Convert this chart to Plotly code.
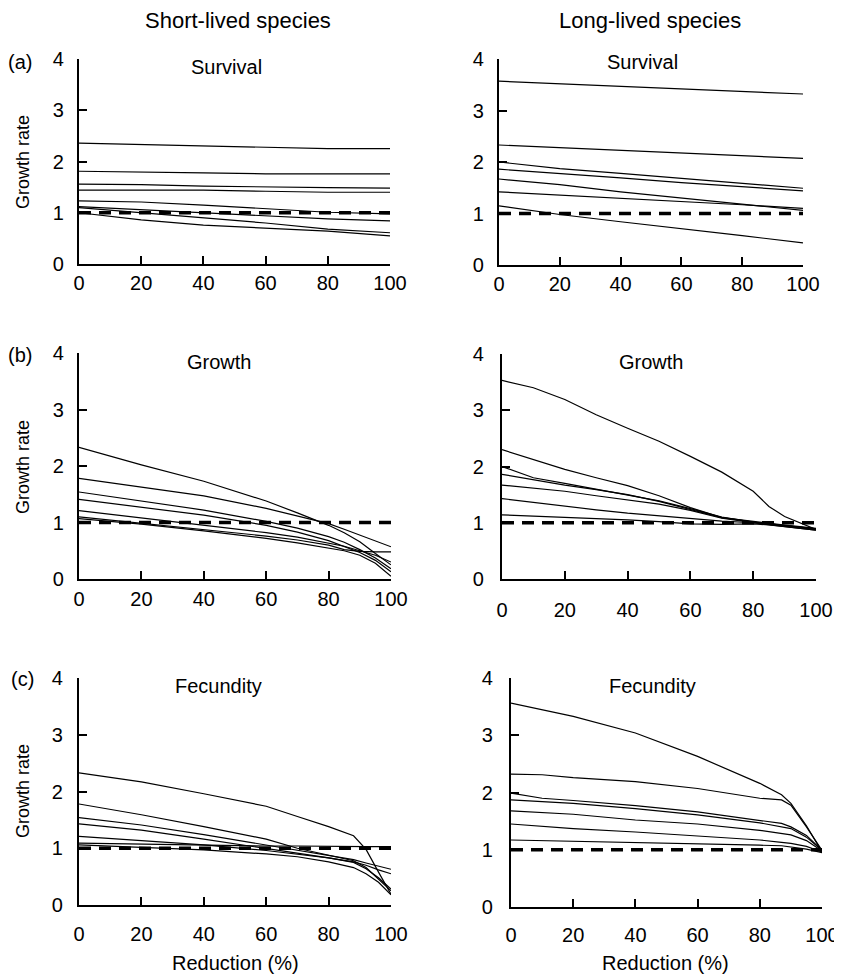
import plotly.graph_objects as go

# the page body has an 8px margin, so the figure starts 8px in from the
# top-left corner; pixel positions below are measured on the 842x975 page
OFF = 8
W, H = 842, 975

# ---------------- data ----------------
# (a) Survival, short-lived
surv_short_x = [0, 20, 40, 60, 80, 100]
surv_short = [
    [2.36, 2.33, 2.31, 2.28, 2.25, 2.25],
    [1.81, 1.80, 1.78, 1.76, 1.76, 1.76],
    [1.56, 1.55, 1.52, 1.50, 1.49, 1.48],
    [1.44, 1.44, 1.44, 1.42, 1.40, 1.40],
    [1.23, 1.21, 1.15, 1.08, 1.01, 0.98],
    [1.12, 1.06, 1.00, 0.94, 0.88, 0.84],
    [1.10, 1.00, 0.90, 0.80, 0.68, 0.61],
    [1.00, 0.86, 0.76, 0.70, 0.64, 0.55],
]
# (a) Survival, long-lived
surv_long_x = [0, 20, 40, 60, 80, 100]
surv_long = [
    [3.57, 3.52, 3.47, 3.42, 3.37, 3.32],
    [2.33, 2.28, 2.22, 2.17, 2.12, 2.07],
    [2.00, 1.87, 1.78, 1.68, 1.58, 1.49],
    [1.86, 1.78, 1.69, 1.60, 1.52, 1.44],
    [1.67, 1.56, 1.42, 1.30, 1.18, 1.06],
    [1.42, 1.36, 1.30, 1.24, 1.17, 1.10],
    [1.15, 0.98, 0.84, 0.71, 0.57, 0.43],
]
# (b) Growth, short-lived
grow_short_x = [0, 20, 40, 60, 70, 80, 85, 90, 95, 100]
grow_short = [
    [2.33, 2.02, 1.73, 1.38, 1.17, 0.95, 0.82, 0.66, 0.45, 0.25],
    [1.78, 1.62, 1.47, 1.25, 1.12, 0.98, 0.88, 0.78, 0.67, 0.57],
    [1.54, 1.38, 1.22, 1.02, 0.90, 0.75, 0.65, 0.52, 0.37, 0.18],
    [1.41, 1.27, 1.13, 0.95, 0.83, 0.68, 0.58, 0.47, 0.33, 0.13],
    [1.21, 1.08, 0.96, 0.82, 0.74, 0.64, 0.58, 0.50, 0.42, 0.30],
    [1.10, 0.99, 0.88, 0.76, 0.69, 0.60, 0.52, 0.49, 0.48, 0.48],
    [1.07, 0.97, 0.85, 0.72, 0.64, 0.55, 0.50, 0.42, 0.28, 0.05],
]
# (b) Growth, long-lived
grow_long_x = [0, 10, 20, 30, 40, 50, 60, 70, 80, 85, 90, 95, 100]
grow_long = [
    [3.53, 3.40, 3.19, 2.92, 2.68, 2.45, 2.18, 1.90, 1.56, 1.29, 1.11, 1.00, 0.88],
    [2.30, 2.12, 1.95, 1.80, 1.66, 1.48, 1.27, 1.09, 1.02, 0.99, 0.96, 0.93, 0.90],
    [2.00, 1.80, 1.70, 1.60, 1.50, 1.39, 1.25, 1.10, 1.01, 0.98, 0.95, 0.92, 0.89],
    [1.86, 1.76, 1.67, 1.59, 1.50, 1.38, 1.24, 1.09, 1.01, 0.98, 0.95, 0.92, 0.89],
    [1.67, 1.61, 1.56, 1.48, 1.41, 1.33, 1.22, 1.08, 1.00, 0.97, 0.94, 0.91, 0.88],
    [1.43, 1.36, 1.29, 1.23, 1.17, 1.12, 1.08, 1.03, 1.00, 0.97, 0.94, 0.91, 0.87],
    [1.14, 1.12, 1.10, 1.07, 1.05, 1.02, 0.98, 0.97, 0.98, 0.96, 0.93, 0.90, 0.87],
]
# (c) Fecundity, short-lived
fec_short_x = [0, 20, 40, 60, 70, 80, 88, 92, 96, 100]
fec_short = [
    [2.33, 2.17, 1.96, 1.74, 1.56, 1.38, 1.22, 0.98, 0.58, 0.19],
    [1.78, 1.59, 1.38, 1.16, 1.00, 0.88, 0.78, 0.66, 0.46, 0.25],
    [1.54, 1.41, 1.24, 1.06, 0.96, 0.88, 0.80, 0.74, 0.68, 0.63],
    [1.43, 1.32, 1.16, 1.00, 0.92, 0.83, 0.75, 0.64, 0.48, 0.28],
    [1.21, 1.14, 1.06, 0.96, 0.90, 0.83, 0.76, 0.70, 0.62, 0.55],
    [1.09, 1.07, 1.06, 1.04, 1.04, 1.03, 1.03, 1.03, 1.03, 1.03],
    [1.06, 1.01, 0.97, 0.90, 0.85, 0.76, 0.66, 0.55, 0.40, 0.18],
]
# (c) Fecundity, long-lived
fec_long_x = [0, 10, 20, 40, 60, 80, 87, 90, 95, 100]
fec_long = [
    [3.56, 3.45, 3.33, 3.04, 2.63, 2.16, 1.96, 1.81, 1.42, 0.96],
    [2.32, 2.31, 2.26, 2.19, 2.07, 1.90, 1.87, 1.78, 1.40, 0.99],
    [1.99, 1.90, 1.86, 1.77, 1.66, 1.52, 1.46, 1.40, 1.25, 0.99],
    [1.87, 1.84, 1.81, 1.72, 1.61, 1.47, 1.40, 1.37, 1.22, 0.99],
    [1.68, 1.65, 1.62, 1.52, 1.45, 1.34, 1.29, 1.26, 1.16, 0.98],
    [1.45, 1.41, 1.37, 1.31, 1.24, 1.17, 1.13, 1.11, 1.06, 0.96],
    [1.17, 1.16, 1.15, 1.12, 1.10, 1.08, 1.07, 1.05, 1.01, 0.95],
]

threshold_x = [0, 100]
threshold_y = [1, 1]
x_ticks = [0, 20, 40, 60, 80, 100]
y_ticks = [0, 1, 2, 3, 4]

FONT = "Liberation Sans, Arial, sans-serif"


def fx(px):
    return (px - OFF) / W


def fy(py):
    return 1 - (py - OFF) / H


# panel boxes in page pixels: left, top, right, bottom ; tick label standoffs (x, y)
panels = [
    (surv_short_x, surv_short, (79, 59, 390, 264), 0, 9),
    (surv_long_x, surv_long, (499, 59, 803, 265), 0, 9),
    (grow_short_x, grow_short, (79, 353, 391, 579), 1, 9),
    (grow_long_x, grow_long, (502, 354, 816, 579), 12, 12),
    (fec_short_x, fec_short, (79, 678, 391, 905), 10, 10),
    (fec_long_x, fec_long, (511, 678, 822, 907), 9, 12),
]

fig = go.Figure()
layout = dict(
    width=W, height=H, autosize=False,
    margin=dict(l=0, r=0, t=0, b=0, pad=0),
    paper_bgcolor="white", plot_bgcolor="white",
    showlegend=False, template="none",
    font=dict(family=FONT, color="black", size=19),
)

for i, (xs, series, (l, t, r, b), xso, yso) in enumerate(panels):
    s = "" if i == 0 else str(i + 1)
    for ys in series:
        fig.add_trace(go.Scatter(
            x=xs, y=ys, mode="lines",
            line=dict(color="black", width=1.2),
            xaxis="x" + s, yaxis="y" + s, hoverinfo="skip"))
    fig.add_trace(go.Scatter(
        x=threshold_x, y=threshold_y, mode="lines",
        line=dict(color="black", width=3.5, dash="12px,8px"),
        xaxis="x" + s, yaxis="y" + s, hoverinfo="skip"))
    common = dict(
        showline=True, linecolor="black", linewidth=2.2,
        ticks="inside", ticklen=8, tickwidth=2, tickcolor="black",
        showgrid=False, zeroline=False, automargin=False,
        tickfont=dict(family=FONT, size=20, color="black"),
    )
    layout["xaxis" + s] = dict(
        domain=[fx(l), fx(r)], anchor="y" + s, range=[0, 100],
        tickvals=x_ticks, ticklabelstandoff=xso, **common)
    layout["yaxis" + s] = dict(
        domain=[fy(b), fy(t)], anchor="x" + s, range=[0, 4],
        tickvals=y_ticks, ticklabelstandoff=yso, **common)

fig.update_layout(**layout)


def ann(text, x, y, size=20, angle=0):
    fig.add_annotation(
        text=text, x=fx(x), y=fy(y), xref="paper", yref="paper",
        showarrow=False, textangle=angle, xanchor="center", yanchor="middle",
        font=dict(family=FONT, size=size, color="black"))


ann("Short-lived species", 238, 21, 22)
ann("Long-lived species", 650, 21, 22)
ann("(a)", 20, 62)
ann("(b)", 20, 355)
ann("(c)", 22, 679)
ann("Survival", 227, 67)
ann("Survival", 642, 62)
ann("Growth", 219, 362)
ann("Growth", 651, 362)
ann("Fecundity", 218, 686)
ann("Fecundity", 652, 686)
ann("Growth rate", 23, 162, 18, -90)
ann("Growth rate", 23, 467, 18, -90)
ann("Growth rate", 23, 791, 18, -90)
ann("Reduction (%)", 235, 963)
ann("Reduction (%)", 665, 963)

fig.write_html("out.html")
